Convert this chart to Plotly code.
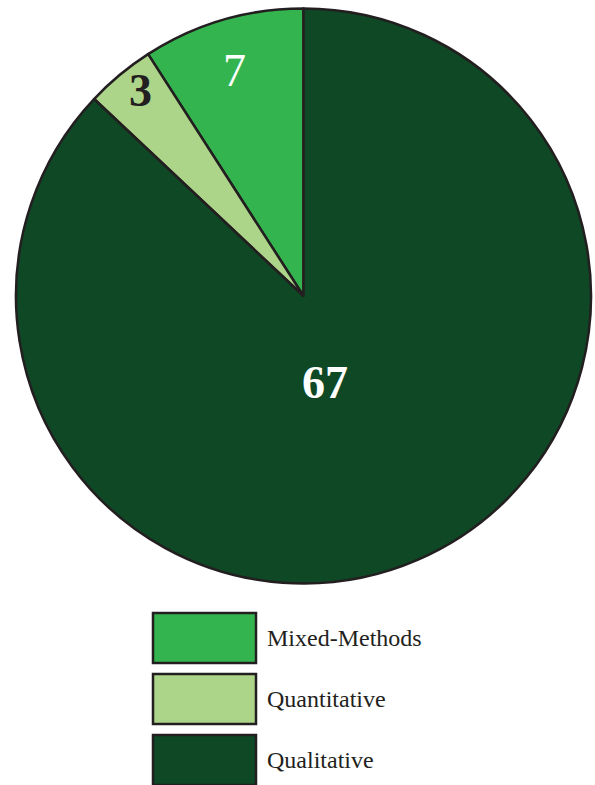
import math
import plotly.graph_objects as go

# Study counts by research design
categories = ["Mixed-Methods", "Quantitative", "Qualitative"]
counts = [7, 3, 67]
colors = ["#34b44e", "#add58a", "#0e4825"]
label_colors = ["#ffffff", "#231f20", "#ffffff"]
label_bold = [False, True, True]

W, H = 595, 785
CX, CY, R = 303.5, 296.0, 287.5  # pie centre / radius in pixels
OUTLINE = "#231f20"
FONT = "Liberation Serif"


def px(x):
    return x / W


def py(y):
    return 1 - y / H


total = sum(counts)
# counterclockwise pies in plotly end the first slice at `rotation`;
# shift so the first slice starts at 12 o'clock instead
first_span = counts[0] / total * 360

fig = go.Figure(
    go.Pie(
        labels=categories,
        values=counts,
        sort=False,
        direction="counterclockwise",
        rotation=-first_span,
        marker=dict(colors=colors, line=dict(color=OUTLINE, width=2.5)),
        textinfo="none",
        hoverinfo="label+value",
        showlegend=False,
        domain=dict(x=[px(CX - R), px(CX + R)], y=[py(CY + R), py(CY - R)]),
    )
)

# Value labels placed along each slice's mid-angle (angles counterclockwise from top)
label_radius = [0.83, 0.92, 0.30]
label_shift = [0.5, -1.6, -8.7]
start = 0.0
for i, v in enumerate(counts):
    span = v / total * 360
    theta = math.radians(start + span / 2 + label_shift[i])
    r = label_radius[i] * R
    x = CX - r * math.sin(theta)
    y = CY - r * math.cos(theta)
    start += span
    txt = f"<b>{v}</b>" if label_bold[i] else str(v)
    fig.add_annotation(
        x=px(x), y=py(y + 3), xref="paper", yref="paper",
        text=txt, showarrow=False,
        font=dict(family=FONT, size=46, color=label_colors[i]),
        xanchor="center", yanchor="middle",
    )

# Legend: outlined swatches with labels
box_x0, box_x1 = 153, 256
box_tops = [613, 674, 735]
box_h = 50
for name, col, top in zip(categories, colors, box_tops):
    fig.add_shape(
        type="rect", xref="paper", yref="paper",
        x0=px(box_x0), x1=px(box_x1), y0=py(top + box_h), y1=py(top),
        fillcolor=col, line=dict(color=OUTLINE, width=2.5),
    )
    fig.add_annotation(
        x=px(265), y=py(top + box_h / 2), xref="paper", yref="paper",
        text=name, showarrow=False,
        font=dict(family=FONT, size=24, color=OUTLINE),
        xanchor="left", yanchor="middle",
    )

fig.update_layout(
    width=W, height=H,
    margin=dict(l=0, r=0, t=0, b=0),
    paper_bgcolor="white", plot_bgcolor="white",
)

fig.write_html("out.html")
